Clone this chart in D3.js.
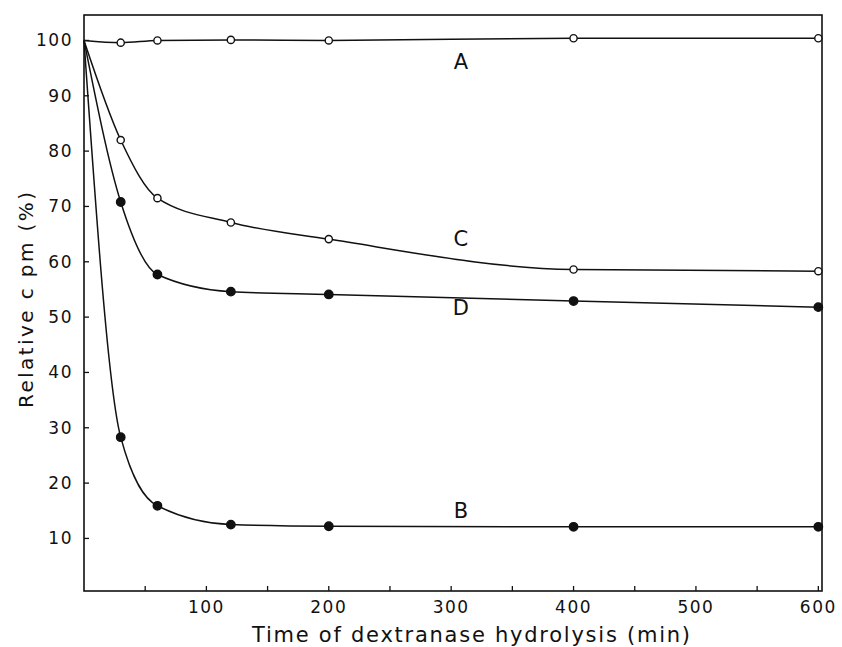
<!DOCTYPE html>
<html>
<head>
  <title>Dextranase hydrolysis</title>
  <script src="https://d3js.org/d3.v7.min.js"></script>
  <style>
    body { margin: 0; background: #fff; }
    text { font-family: "DejaVu Sans", sans-serif; fill: #111; }
  </style>
</head>
<body>
  <div id="chart"></div>

  <script>
    // time points (min)
    var times = [0, 30, 60, 120, 200, 400, 600];

    // relative cpm (%) for each curve
    var seriesA = [100, 99.6, 100, 100.1, 100, 100.4, 100.4];
    var seriesB = [100, 28.3, 15.9, 12.5, 12.2, 12.1, 12.1];
    var seriesC = [100, 82, 71.5, 67.1, 64.1, 58.6, 58.3];
    var seriesD = [100, 70.8, 57.7, 54.6, 54.1, 52.9, 51.8];

    var curveNames = ["A", "B", "C", "D"];
    var openMarker = [true, false, true, false];
    // label anchor (time, value)
    var labelTime = [308, 308, 308, 308];
    var labelValue = [94.9, 13.7, 62.9, 50.4];

    var xTicks = [100, 200, 300, 400, 500, 600];
    var xMinor = [50, 150, 250, 350, 450, 550];
    var yTicks = [10, 20, 30, 40, 50, 60, 70, 80, 90, 100];

    var width = 842, height = 647;
    var plotLeft = 84, plotRight = 822, plotTop = 15, plotBottom = 591;

    var x = d3.scaleLinear().domain([0, 603]).range([plotLeft, plotRight]);
    var y = d3.scaleLinear().domain([0.5, 104.6]).range([plotBottom, plotTop]);

    var svg = d3.select("#chart")
      .append("svg")
      .attr("width", width)
      .attr("height", height);

    svg.append("rect")
      .attr("width", width).attr("height", height)
      .attr("fill", "#fff");

    // frame
    svg.append("rect")
      .attr("x", plotLeft).attr("y", plotTop)
      .attr("width", plotRight - plotLeft).attr("height", plotBottom - plotTop)
      .attr("fill", "none")
      .attr("stroke", "#111")
      .attr("stroke-width", 1.6);

    // x ticks (inward)
    svg.selectAll(".xtick")
      .data(xTicks.concat(xMinor))
      .enter()
      .append("line")
      .attr("x1", function(d) { return x(d); })
      .attr("x2", function(d) { return x(d); })
      .attr("y1", plotBottom)
      .attr("y2", plotBottom - 5)
      .attr("stroke", "#111")
      .attr("stroke-width", 1.3);

    svg.selectAll(".xlabel")
      .data(xTicks)
      .enter()
      .append("text")
      .attr("x", function(d) { return x(d); })
      .attr("y", 613)
      .attr("text-anchor", "middle")
      .style("font-size", "17px")
      .style("letter-spacing", "1.5px")
      .text(function(d) { return d; });

    // y ticks (inward)
    svg.selectAll(".ytick")
      .data(yTicks)
      .enter()
      .append("line")
      .attr("x1", plotLeft)
      .attr("x2", plotLeft + 5)
      .attr("y1", function(d) { return y(d); })
      .attr("y2", function(d) { return y(d); })
      .attr("stroke", "#111")
      .attr("stroke-width", 1.3);

    svg.selectAll(".ylabel")
      .data(yTicks)
      .enter()
      .append("text")
      .attr("x", 73)
      .attr("y", function(d) { return y(d) + 6; })
      .attr("text-anchor", "end")
      .style("font-size", "17px")
      .style("letter-spacing", "1.5px")
      .text(function(d) { return d; });

    // axis titles
    svg.append("text")
      .attr("x", 252)
      .attr("y", 642)
      .attr("textLength", 438)
      .attr("lengthAdjust", "spacing")
      .style("font-size", "21px")
      .text("Time of dextranase hydrolysis (min)");

    svg.append("text")
      .attr("transform", "translate(33,408) rotate(-90)")
      .attr("x", 0)
      .attr("y", 0)
      .attr("textLength", 216)
      .attr("lengthAdjust", "spacing")
      .style("font-size", "20px")
      .text("Relative c pm (%)");

    // curves
    var allSeries = [seriesA, seriesB, seriesC, seriesD];
    var line = d3.line()
      .x(function(d) { return x(d.t); })
      .y(function(d) { return y(d.v); })
      .curve(d3.curveMonotoneX);

    allSeries.forEach(function(vals, i) {
      var pts = times.map(function(t, j) { return { t: t, v: vals[j] }; });

      svg.append("path")
        .datum(pts)
        .attr("d", line)
        .attr("fill", "none")
        .attr("stroke", "#111")
        .attr("stroke-width", 1.5);

      svg.selectAll(".pt" + i)
        .data(pts.slice(1))
        .enter()
        .append("circle")
        .attr("cx", function(d) { return x(d.t); })
        .attr("cy", function(d) { return y(d.v); })
        .attr("r", openMarker[i] ? 3.6 : 4.2)
        .attr("fill", openMarker[i] ? "#fff" : "#111")
        .attr("stroke", "#111")
        .attr("stroke-width", 1.4);

      svg.append("text")
        .attr("x", x(labelTime[i]))
        .attr("y", y(labelValue[i]))
        .attr("text-anchor", "middle")
        .style("font-size", "21px")
        .text(curveNames[i]);
    });
  </script>
</body>
</html>
